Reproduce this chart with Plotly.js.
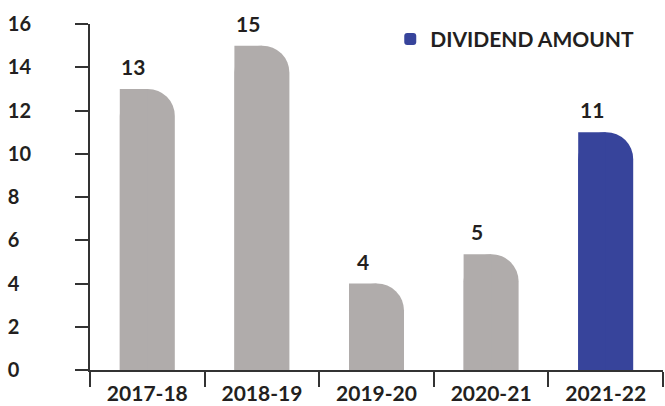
<!DOCTYPE html>
<html>
<head>
<meta charset="utf-8">
<script src="https://cdn.plot.ly/plotly-3.0.1.min.js"></script>
<style>html,body{margin:0;padding:0;background:#fff;}#chart{width:665px;height:406px;}</style>
</head>
<body>
<div id="chart"></div>
<script>
// ---- data ----
var categories = ["2017-18", "2018-19", "2019-20", "2020-21", "2021-22"];
var values = [13, 15, 4, 5.35, 11];          // bar heights
var labels = ["13", "15", "4", "5", "11"];   // printed value labels
var highlight = [false, false, false, false, true];
var seriesName = "DIVIDEND AMOUNT";
var yTicks = [0, 2, 4, 6, 8, 10, 12, 14, 16];

// ---- style ----
var GRAY = "#b0acab", BLUE = "#37449b", INK = "#231f20", AXIS = "#333333";
var FAM = "Lato, 'Open Sans', sans-serif";
var FONT = {family: FAM, size: 21, color: INK, weight: 700};
var YFONT = {family: FAM, size: 20, color: INK, weight: 700};

function pick(flag) {
  return values.map(function (v, i) { return highlight[i] === flag ? v : null; });
}

function pair(flag, color, name, showlegend) {
  var ys = pick(flag);
  return [
    {type: "bar", x: categories, y: ys, width: 0.48, name: name, showlegend: showlegend,
     marker: {color: color, cornerradius: "50%", line: {width: 0}}, hoverinfo: "skip"},
    {type: "bar", x: categories, y: ys, width: 0.24, offset: -0.24, showlegend: false,
     marker: {color: color, line: {width: 0}}, hoverinfo: "skip"}
  ];
}

var traces = [].concat(pair(false, GRAY, "other", false), pair(true, BLUE, seriesName, true));

var annotations = categories.map(function (c, i) {
  return {x: c, y: values[i], xref: "x", yref: "y", text: labels[i], showarrow: false,
          xanchor: "center", yanchor: "bottom", xshift: -14, yshift: 8, font: FONT};
});

var FS = "\u2007";
var yText = yTicks.map(function (t) { var s = String(t); return s.length < 2 ? s + FS : s; });

var layout = {
  width: 665, height: 406,
  margin: {l: 90, r: 2, t: 23.5, b: 36, pad: 0},
  paper_bgcolor: "#fff", plot_bgcolor: "#fff",
  barmode: "overlay",
  showlegend: true,
  legend: {x: 0.524, xanchor: "left", y: 1.015, yanchor: "top", font: FONT, bgcolor: "rgba(0,0,0,0)"},
  hovermode: false,
  font: FONT,
  xaxis: {type: "category", range: [-0.5, 4.5], tickson: "boundaries", ticks: "outside",
          ticklen: 15, tickwidth: 2, tickcolor: AXIS, showline: true, linewidth: 2, linecolor: AXIS,
          showgrid: false, zeroline: false, tickfont: FONT, ticklabelstandoff: 4, fixedrange: true},
  yaxis: {range: [0, 16], tickmode: "array", tickvals: yTicks, ticktext: yText, ticks: "outside",
          ticklen: 13, tickwidth: 2, tickcolor: AXIS, showline: true, linewidth: 2, linecolor: AXIS,
          showgrid: false, zeroline: false, tickfont: YFONT, ticklabelstandoff: 40, fixedrange: true},
  annotations: annotations
};

Plotly.newPlot("chart", traces, layout, {displayModeBar: false, staticPlot: true});
</script>
</body>
</html>
